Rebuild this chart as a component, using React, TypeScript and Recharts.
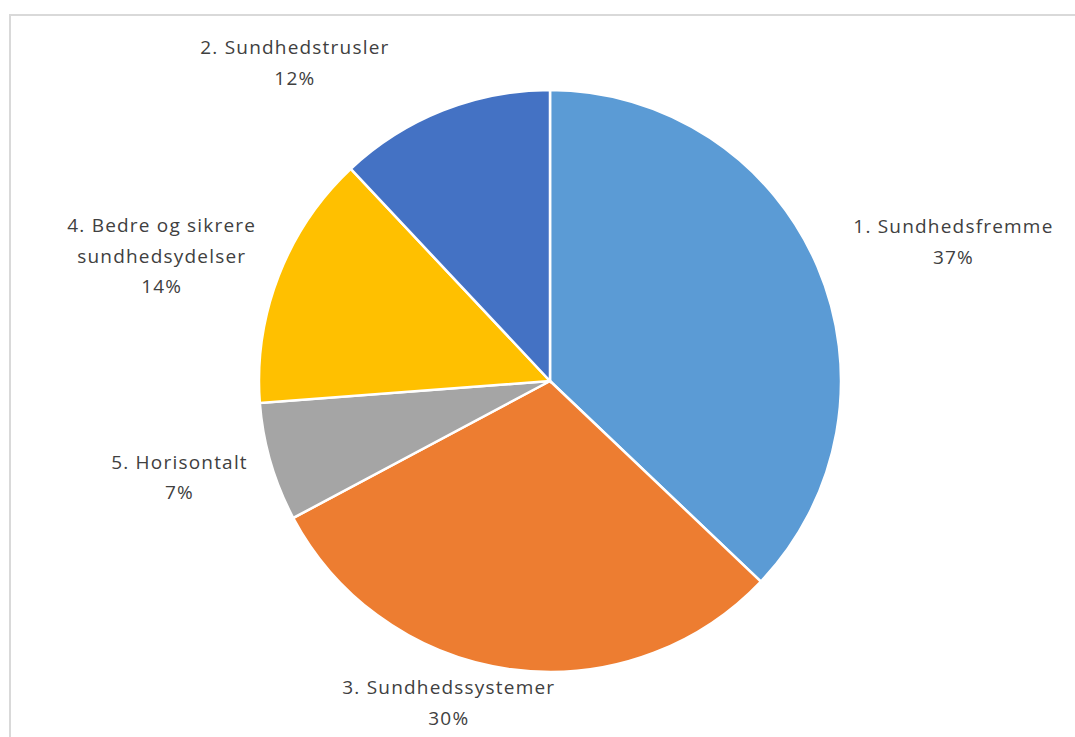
import React from "react";
import { PieChart, Pie, Cell } from "recharts";

const categories = [
  "1. Sundhedsfremme",
  "3. Sundhedssystemer",
  "5. Horisontalt",
  "4. Bedre og sikrere sundhedsydelser",
  "2. Sundhedstrusler",
];
// shares (labels show rounded percent)
const shares = [37.1, 30.1, 6.6, 14.2, 12.0];
const labelLines = [
  ["1. Sundhedsfremme"],
  ["3. Sundhedssystemer"],
  ["5. Horisontalt"],
  ["4. Bedre og sikrere", "sundhedsydelser"],
  ["2. Sundhedstrusler"],
];
const colors = ["#5B9BD5", "#ED7D31", "#A5A5A5", "#FFC000", "#4472C4"];

const data = categories.map((name, i) => ({ name, value: shares[i] }));

// label placement nudges (relative to the point on the rim at mid-angle)
const LABEL_NUDGE: [number, number][] = [
  [136, -25],
  [-62, 33],
  [-91, 15],
  [-117, -20],
  [-148, -48],
];

const RAD = Math.PI / 180;
const LINE_H = 30.5;

const renderLabel = (props: any) => {
  const { cx, cy, midAngle, outerRadius, index, percent } = props;
  const x0 = cx + outerRadius * Math.cos(-midAngle * RAD);
  const y0 = cy + outerRadius * Math.sin(-midAngle * RAD);
  const [dx, dy] = LABEL_NUDGE[index];
  const x = x0 + dx;
  const lines = [...labelLines[index], `${Math.round(percent * 100)}%`];
  const yc = y0 + dy;
  const top = yc - ((lines.length - 1) * LINE_H) / 2;
  return (
    <text
      x={x}
      y={top}
      textAnchor="middle"
      dominantBaseline="central"
      fill="#404040"
      fontFamily="'Open Sans', 'Noto Sans', sans-serif"
      fontSize={19}
      letterSpacing={1.2}
    >
      {lines.map((l, i) => (
        <tspan key={i} x={x} y={top + i * LINE_H}>
          {l}
        </tspan>
      ))}
    </text>
  );
};

export default function App() {
  return (
    <div
      style={{
        position: "fixed",
        left: 0,
        top: 0,
        width: 1075,
        height: 737,
        overflow: "hidden",
        background: "#fff",
      }}
    >
      <div
        style={{
          position: "absolute",
          left: 9,
          top: 14,
          width: 1200,
          height: 900,
          borderTop: "2px solid #d9d9d9",
          borderLeft: "2px solid #d9d9d9",
        }}
      />
      <div style={{ position: "absolute", left: 0, top: 0 }}>
        <PieChart
          width={1075}
          height={737}
          margin={{ top: 0, right: 0, bottom: 0, left: 0 }}
        >
          <Pie
            data={data}
            dataKey="value"
            nameKey="name"
            cx={550}
            cy={381}
            outerRadius={291}
            startAngle={90}
            endAngle={-270}
            stroke="#ffffff"
            strokeWidth={2.5}
            label={renderLabel}
            labelLine={false}
            isAnimationActive={false}
          >
            {data.map((d, i) => (
              <Cell key={d.name} fill={colors[i]} />
            ))}
          </Pie>
        </PieChart>
      </div>
    </div>
  );
}
